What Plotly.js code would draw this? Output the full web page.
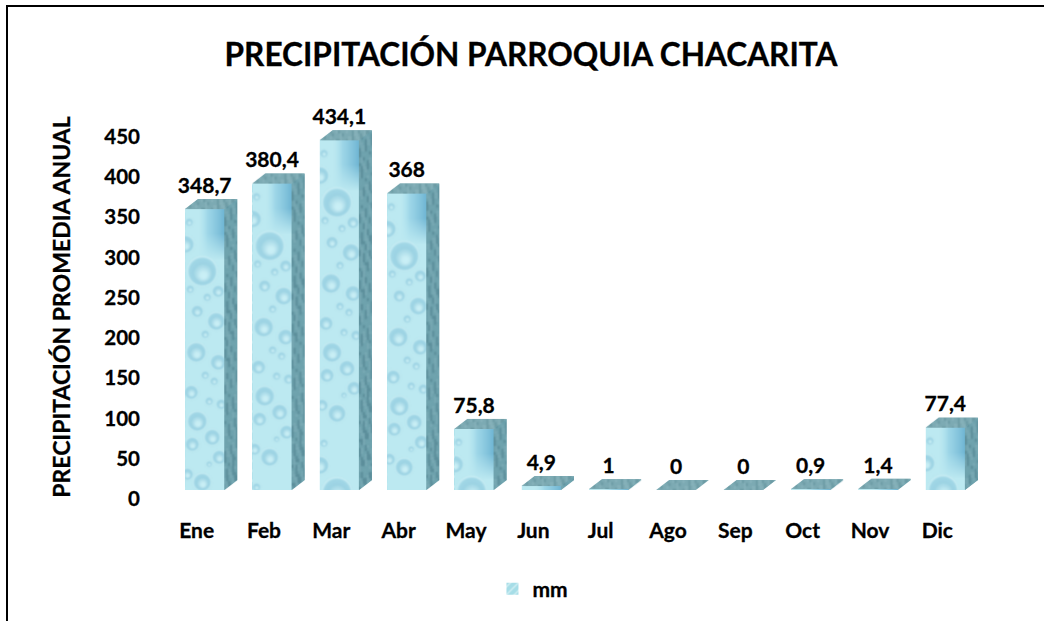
<!DOCTYPE html>
<html>
<head>
<meta charset="utf-8">
<script src="https://cdn.plot.ly/plotly-3.0.1.min.js"></script>
<style>
html,body{margin:0;padding:0;background:#fff;overflow:hidden}
#frame{position:absolute;left:6px;top:5px;width:1038px;height:616px;border-left:2px solid #000;border-top:2px solid #000;box-sizing:border-box;pointer-events:none;z-index:5}
#chart{position:absolute;left:0;top:0;width:1044px;height:621px}
#chart text{stroke:#000;stroke-width:.3px}
</style>
</head>
<body>
<div id="chart"></div>
<div id="frame"></div>
<script>
const months = ['Ene','Feb','Mar','Abr','May','Jun','Jul','Ago','Sep','Oct','Nov','Dic'];
const rainfall = [348.7,380.4,434.1,368,75.8,4.9,1,0,0,0.9,1.4,77.4];
const yTicks = [0,50,100,150,200,250,300,350,400,450];
const seriesName = 'mm';
const chartTitle = 'PRECIPITACIÓN PARROQUIA CHACARITA';
const yTitle = 'PRECIPITACIÓN PROMEDIA ANUAL';

const FONT = 'Lato, "Open Sans", sans-serif';
const pxPerUnit = 0.8055, pxPerCat = 67.27;
const frontPx = 39, depthXPx = 13, depthYPx = 10;
const barW = frontPx / pxPerCat, depthX = depthXPx / pxPerCat, depthY = depthYPx / pxPerUnit;

const idx = months.map((_, i) => i);

// depth faces, derived from the values
const sideX = [], sideY = [], topX = [], topY = [];
rainfall.forEach((v, i) => {
  const r = i + barW / 2, l = i - barW / 2;
  sideX.push(r, r + depthX, r + depthX, r, r, null);
  sideY.push(v, v + depthY, depthY, 0, v, null);
  topX.push(l, l + depthX, r + depthX, r, l, null);
  topY.push(v, v + depthY, v + depthY, v, v, null);
});

// decorative water-drop texture (style only): [x, y, r] within a face
const drops = [[17,62,15],[31,112,9],[12,102,6],[11,143,10],[33,153,8],[6,183,7],[12,212,10],[27,228,8],[7,235,7],[34,248,7],[17,273,9],[0,35,9],[4,13,4],[29,172,4],[20,166,4],[24,192,4],[2,265,6],[22,88,4],[33,82,6],[5,80,4],[36,195,5],[20,125,4],[24,255,3]];

function mottle(ctx, x0, y0, w, h, dark, light) {
  ctx.filter = 'blur(1.5px)';
  for (let y = y0; y < y0 + h; y += 3) {
    for (let x = x0; x < x0 + w; x += 2) {
      const s = Math.sin(x * 1.3 + y * 0.19) + Math.sin(y * 0.37 - x * 0.7) + Math.sin(y * 0.11 + x * 2.3);
      if (s > 0.9 || s < -0.9) {
        ctx.fillStyle = s > 0 ? light : dark;
        ctx.fillRect(x, y, 2, 3);
      }
    }
  }
  ctx.filter = 'none';
}

function barImage(v) {
  const h = Math.max(Math.round(v * pxPerUnit), 0);
  const W = frontPx + depthXPx, H = h + depthYPx;
  const c = document.createElement('canvas');
  c.width = W * 2; c.height = H * 2;
  const ctx = c.getContext('2d');
  ctx.scale(2, 2);
  // top face
  ctx.save();
  ctx.beginPath();
  ctx.moveTo(0, depthYPx); ctx.lineTo(depthXPx, 0); ctx.lineTo(W, 0); ctx.lineTo(frontPx, depthYPx); ctx.closePath();
  ctx.fillStyle = '#7dabb4'; ctx.fill(); ctx.clip();
  mottle(ctx, 0, 0, W, depthYPx, 'rgba(90,140,150,.5)', 'rgba(150,190,197,.45)');
  ctx.restore();
  // side face
  ctx.save();
  ctx.beginPath();
  ctx.moveTo(frontPx, depthYPx); ctx.lineTo(W, 0); ctx.lineTo(W, h); ctx.lineTo(frontPx, H); ctx.closePath();
  ctx.fillStyle = '#6fa3ae'; ctx.fill(); ctx.clip();
  mottle(ctx, frontPx, 0, depthXPx, H, 'rgba(72,120,133,.5)', 'rgba(135,180,190,.45)');
  ctx.restore();
  // front face
  if (h > 0) {
    ctx.save();
    ctx.beginPath(); ctx.rect(0, depthYPx, frontPx, h); ctx.clip();
    ctx.translate(0, depthYPx);
    ctx.fillStyle = '#bce9f1'; ctx.fillRect(0, 0, frontPx, h);
    // soft blue patch in the upper right corner, fading downwards
    const g = ctx.createLinearGradient(14, 0, 39, 0);
    g.addColorStop(0, 'rgba(170,224,238,0)');
    g.addColorStop(.35, 'rgba(150,210,230,.8)');
    g.addColorStop(1, 'rgba(112,182,212,1)');
    ctx.fillStyle = g;
    for (let y = 0; y < 50; y++) {
      ctx.globalAlpha = y < 24 ? 1 : Math.max(0, 1 - (y - 24) / 26);
      ctx.fillRect(14, y, 25, 1);
    }
    ctx.globalAlpha = 1;
    ctx.filter = 'blur(1.4px)';
    for (let t = 0; t < h; t += 290) {
      drops.forEach(([x, y, r]) => {
        const cy = y + t;
        if (cy - r > h) return;
        const rg = ctx.createRadialGradient(x + r * .1, cy + r * .3, r * .2, x, cy, r);
        rg.addColorStop(0, 'rgba(205,240,246,.75)');
        rg.addColorStop(.55, 'rgba(148,205,224,.8)');
        rg.addColorStop(.85, 'rgba(150,208,226,.7)');
        rg.addColorStop(1, 'rgba(222,248,251,.85)');
        ctx.fillStyle = rg;
        ctx.beginPath(); ctx.arc(x, cy, r, 0, 6.3); ctx.fill();
      });
    }
    ctx.restore();
  }
  return c.toDataURL('image/png');
}

const images = rainfall.map((v, i) => ({
  source: barImage(v),
  xref: 'x', yref: 'y',
  x: i - barW / 2, y: v + depthY,
  sizex: barW + depthX, sizey: v + depthY,
  xanchor: 'left', yanchor: 'top',
  sizing: 'stretch', layer: 'above'
}));

const traces = [
  { type: 'bar', name: seriesName, x: idx, y: rainfall, width: barW, showlegend: true,
    marker: { color: '#a9dfe8', line: { width: 0 }, pattern: { shape: '/', bgcolor: '#a6dde7', fgcolor: '#d2eff3', size: 7, solidity: 0.25 } },
    hoverinfo: 'x+y' },
  { type: 'scatter', mode: 'lines', x: sideX, y: sideY, fill: 'toself', fillcolor: '#6fa3ae', line: { width: 0 }, showlegend: false, hoverinfo: 'skip' },
  { type: 'scatter', mode: 'lines', x: topX, y: topY, fill: 'toself', fillcolor: '#7dabb4', line: { width: 0 }, showlegend: false, hoverinfo: 'skip' },
  { type: 'scatter', mode: 'text', x: idx, y: rainfall.map(v => v + depthY + 1.2),
    text: rainfall.map(v => String(v).replace('.', ',')), textposition: 'top center',
    textfont: { family: FONT, size: 21, color: '#000', weight: 700 }, cliponaxis: false, showlegend: false, hoverinfo: 'skip' }
];

const layout = {
  width: 1044, height: 621,
  paper_bgcolor: '#fff', plot_bgcolor: 'rgba(0,0,0,0)',
  margin: { l: 171.4, r: 65.4, t: 97, b: 104, pad: 0 },
  showlegend: true,
  title: { text: chartTitle, x: 531 / 1044, xanchor: 'center', xref: 'container', y: 1 - 55 / 621, yanchor: 'middle', yref: 'container',
    font: { family: FONT, size: 31.6, color: '#000', weight: 700 } },
  xaxis: { range: [-0.5, 11.5], tickvals: idx, ticktext: months, ticks: '', showgrid: false, zeroline: false, showline: false,
    ticklabelshift: -8, ticklabelstandoff: -1, tickfont: { family: FONT, size: 21, color: '#000', weight: 700 }, fixedrange: true },
  yaxis: { range: [-33.52, 487.9], tickvals: yTicks, ticktext: yTicks.map(String), ticks: '', showgrid: false, zeroline: false, showline: false,
    ticklabelshift: 9, ticklabelstandoff: 30, tickfont: { family: FONT, size: 20.5, color: '#000', weight: 700 },
    title: { text: yTitle, standoff: 27, font: { family: FONT, size: 23, color: '#000', weight: 700 } }, fixedrange: true },
  legend: { orientation: 'h', x: (533 - 171.4) / 807.2, xanchor: 'center', y: (517 - 589) / 420, yanchor: 'middle',
    font: { family: FONT, size: 21, color: '#000', weight: 700 }, bgcolor: 'rgba(0,0,0,0)' },
  images: images,
  bargap: 0
};

Plotly.newPlot('chart', traces, layout, { displayModeBar: false, staticPlot: true });
</script>
</body>
</html>
